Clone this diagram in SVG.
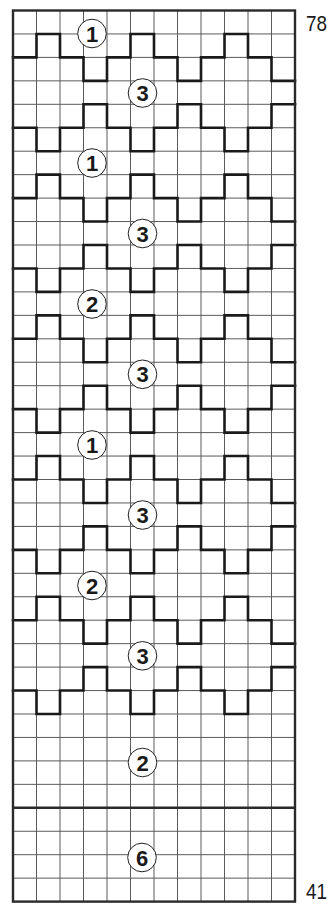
<svg xmlns="http://www.w3.org/2000/svg" xmlns:xlink="http://www.w3.org/1999/xlink" width="330" height="922" viewBox="0 0 330 922">
<style>
.grid{stroke:#5a5a5a;stroke-width:1;fill:none}
.zig{stroke:#1a1a1a;stroke-width:2.6;fill:none;stroke-linejoin:miter;stroke-linecap:square}
.border{stroke:#2a2a2a;stroke-width:2.4;fill:none}
.lab circle{fill:#fff;stroke:#222;stroke-width:1}
.lab text{font-family:"Liberation Sans",Arial,sans-serif;font-weight:bold;font-size:22px;fill:#1a1a1a;text-anchor:middle}
.num{font-family:"Liberation Sans",Arial,sans-serif;font-size:22px;fill:#1a1a1a}
</style>
<defs>
<path id="za" d="M0,0 h23.5 v-23.45 h23.5 v23.45 h23.5 v23.45 h23.5 v-23.45 h23.5 v-23.45 h23.5 v23.45 h23.5 v23.45 h23.5 v-23.45 h23.5 v-23.45 h23.5 v23.45 h23.5 v23.45 h23.5"/>
</defs>
<rect x="0" y="0" width="330" height="922" fill="#fff"/>
<g id="grid" class="grid">
<path d="M36.5,10.5V901.6M60,10.5V901.6M83.5,10.5V901.6M107,10.5V901.6M130.5,10.5V901.6M154,10.5V901.6M177.5,10.5V901.6M201,10.5V901.6M224.5,10.5V901.6M248,10.5V901.6M271.5,10.5V901.6"/>
<path d="M13,33.95H295M13,57.4H295M13,80.85H295M13,104.3H295M13,127.75H295M13,151.2H295M13,174.65H295M13,198.1H295M13,221.55H295M13,245H295M13,268.45H295M13,291.9H295M13,315.35H295M13,338.8H295M13,362.25H295M13,385.7H295M13,409.15H295M13,432.6H295M13,456.05H295M13,479.5H295M13,502.95H295M13,526.4H295M13,549.85H295M13,573.3H295M13,596.75H295M13,620.2H295M13,643.65H295M13,667.1H295M13,690.55H295M13,714H295M13,737.45H295M13,760.9H295M13,784.35H295M13,831.25H295M13,854.7H295M13,878.15H295"/>
</g>
<g id="zigzags" class="zig">
<use xlink:href="#za" href="#za" transform="translate(13,57.4)"/>
<use xlink:href="#za" href="#za" transform="translate(13,127.75) scale(1,-1)"/>
<use xlink:href="#za" href="#za" transform="translate(13,198.1)"/>
<use xlink:href="#za" href="#za" transform="translate(13,268.45) scale(1,-1)"/>
<use xlink:href="#za" href="#za" transform="translate(13,338.8)"/>
<use xlink:href="#za" href="#za" transform="translate(13,409.15) scale(1,-1)"/>
<use xlink:href="#za" href="#za" transform="translate(13,479.5)"/>
<use xlink:href="#za" href="#za" transform="translate(13,549.85) scale(1,-1)"/>
<use xlink:href="#za" href="#za" transform="translate(13,620.2)"/>
<use xlink:href="#za" href="#za" transform="translate(13,690.55) scale(1,-1)"/>
</g>
<g id="frame" class="border">
<rect x="13" y="10.5" width="282" height="891.1"/>
<line x1="13" y1="807.8" x2="295" y2="807.8"/>
</g>
<g id="labels" class="lab">
<g id="l1a"><circle cx="92" cy="33.5" r="14.3"/><text x="92" y="41.5">1</text></g>
<g id="l3a"><circle cx="142.5" cy="93" r="14.3"/><text x="142.5" y="101">3</text></g>
<g id="l1b"><circle cx="92" cy="163" r="14.3"/><text x="92" y="171">1</text></g>
<g id="l3b"><circle cx="142.5" cy="233.5" r="14.3"/><text x="142.5" y="241.5">3</text></g>
<g id="l2a"><circle cx="92" cy="304" r="14.3"/><text x="92" y="312">2</text></g>
<g id="l3c"><circle cx="142.5" cy="374.3" r="14.3"/><text x="142.5" y="382.3">3</text></g>
<g id="l1c"><circle cx="92" cy="445" r="14.3"/><text x="92" y="453">1</text></g>
<g id="l3d"><circle cx="142.5" cy="515" r="14.3"/><text x="142.5" y="523">3</text></g>
<g id="l2b"><circle cx="92" cy="585.5" r="14.3"/><text x="92" y="593.5">2</text></g>
<g id="l3e"><circle cx="142.5" cy="655.8" r="14.3"/><text x="142.5" y="663.8">3</text></g>
<g id="l2c"><circle cx="142.5" cy="762.5" r="14.3"/><text x="142.5" y="770.5">2</text></g>
<g id="l6"><circle cx="142" cy="857.5" r="14.3"/><text x="142" y="865.5">6</text></g>
</g>
<g id="rownums">
<text class="num" x="306" y="31" textLength="21" lengthAdjust="spacingAndGlyphs">78</text>
<text class="num" x="306" y="898.5" textLength="21" lengthAdjust="spacingAndGlyphs">41</text>
</g>
</svg>
